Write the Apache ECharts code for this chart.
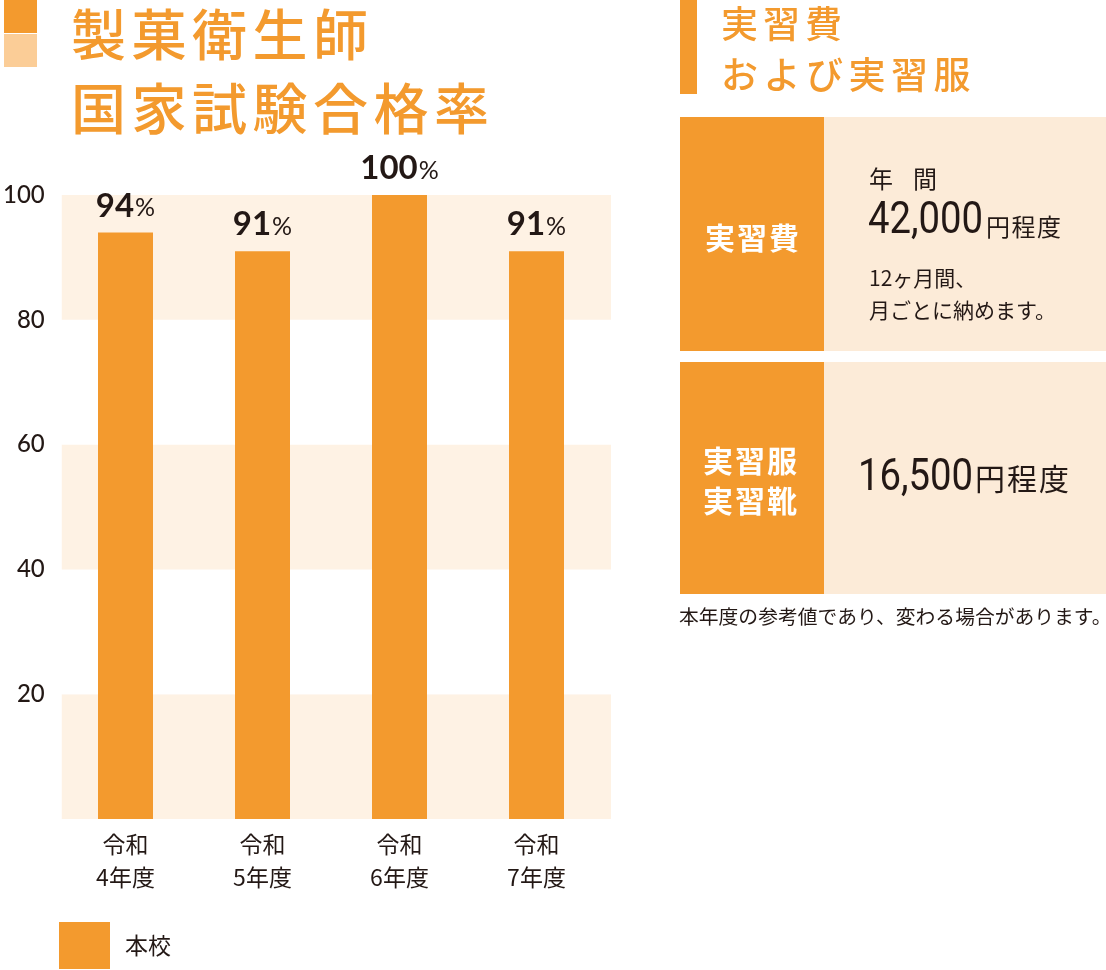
<!DOCTYPE html>
<html>
<head>
<meta charset="utf-8">
<script src="https://cdn.jsdelivr.net/npm/echarts@6/dist/echarts.min.js"></script>
<style>
  html, body { margin: 0; padding: 0; background: #fff; }
  #chart { width: 1106px; height: 970px; }
</style>
</head>
<body>
<div id="chart"></div>
<script>
// データ
const categories = ['令和\n4年度', '令和\n5年度', '令和\n6年度', '令和\n7年度'];
const passRates = [94, 91, 100, 91];
const seriesName = '本校';
const yMin = 0, yMax = 100, yStep = 20;

const ORANGE = '#F39A2E';
const LIGHT = '#FBCD97';
const BAND = '#FEF2E4';
const CELL = '#FCEBD8';
const INK = '#231815';
const JP = '"Noto Sans CJK JP", sans-serif';

// 1文字ずつ並べる（字間調整用）
function chars(text, x, y, pitch, size, color, weight) {
  return text.split('').map((c, i) => ({
    type: 'text',
    x: x + i * pitch,
    y: y,
    silent: true,
    style: {
      text: c, fill: color, fontSize: size, fontFamily: JP,
      fontWeight: weight || 'normal', align: 'left', verticalAlign: 'middle'
    }
  }));
}

function txt(text, x, y, size, color) {
  return {
    type: 'text', x: x, y: y, silent: true,
    style: { text: text, fill: color, fontSize: size, fontFamily: JP, align: 'left', verticalAlign: 'middle' }
  };
}

function digits(text, x, y) {
  return {
    type: 'text', x: x, y: y, scaleX: 0.87, silent: true,
    style: { text: text, fill: INK, fontSize: 44, fontFamily: 'Roboto', fontWeight: 'normal', align: 'left', verticalAlign: 'middle' }
  };
}

const graphics = [
  // 左タイトル
  { type: 'rect', shape: { x: 4, y: 0, width: 33, height: 33 }, style: { fill: ORANGE }, silent: true },
  { type: 'rect', shape: { x: 4, y: 34, width: 33, height: 33 }, style: { fill: LIGHT }, silent: true },
  ...chars('製菓衛生師', 71, 34, 60.5, 55, ORANGE, 500),
  ...chars('国家試験合格率', 71, 108, 60.5, 55, ORANGE, 500),

  // 右タイトル
  { type: 'rect', shape: { x: 680, y: 0, width: 17, height: 94 }, style: { fill: ORANGE }, silent: true },
  ...chars('実習費', 721, 24, 42, 37, ORANGE, 500),
  ...chars('および実習服', 721, 75, 42.5, 37, ORANGE, 500),

  // 表 1
  { type: 'rect', shape: { x: 680, y: 117, width: 144, height: 234 }, style: { fill: ORANGE }, silent: true },
  { type: 'rect', shape: { x: 824, y: 117, width: 282, height: 234 }, style: { fill: CELL }, silent: true },
  ...chars('実習費', 705, 238, 32, 30, '#fff', 'bold'),
  ...chars('年 間', 869, 179, 22, 24, INK),
  digits('42,000', 868, 222),
  ...chars('円程度', 986, 227, 25.5, 24, INK),
  txt('12ヶ月間、', 869, 278, 21, INK),
  txt('月ごとに納めます。', 869, 310, 21, INK),

  // 表 2
  { type: 'rect', shape: { x: 680, y: 362, width: 144, height: 232 }, style: { fill: ORANGE }, silent: true },
  { type: 'rect', shape: { x: 824, y: 362, width: 282, height: 232 }, style: { fill: CELL }, silent: true },
  ...chars('実習服', 703, 461, 32, 30, '#fff', 'bold'),
  ...chars('実習靴', 703, 501, 32, 30, '#fff', 'bold'),
  digits('16,500', 858, 479),
  ...chars('円程度', 975, 479, 32, 30, INK),

  txt('本年度の参考値であり、変わる場合があります。', 679, 616, 19.8, INK)
];

const chart = echarts.init(document.getElementById('chart'));
chart.setOption({
  animation: false,
  backgroundColor: '#fff',
  textStyle: { fontFamily: JP },
  // grid 0: 背景の帯と目盛、grid 1: 棒
  grid: [
    { left: 59, right: 495, top: 195, bottom: 151, containLabel: false },
    { left: 57, right: 501, top: 195, bottom: 151, containLabel: false }
  ],
  legend: {
    data: [seriesName],
    left: 59, top: 922, padding: 0,
    itemWidth: 51, itemHeight: 47, icon: 'rect',
    textStyle: { fontSize: 23, color: INK, fontFamily: JP, padding: [0, 0, 0, 10] }
  },
  xAxis: [
    { type: 'category', gridIndex: 0, data: categories, show: false },
    {
      type: 'category',
      gridIndex: 1,
      data: categories,
      axisLine: { show: false },
      axisTick: { show: false },
      axisLabel: { fontSize: 23, lineHeight: 33, color: INK, margin: 9, fontFamily: JP }
    }
  ],
  yAxis: [
    {
      type: 'value',
      gridIndex: 0,
      min: yMin, max: yMax, interval: yStep,
      axisLine: { show: false },
      axisTick: { show: false },
      splitLine: { show: false },
      splitArea: { show: true, areaStyle: { color: [BAND, '#ffffff'] } },
      axisLabel: {
        fontSize: 24, color: INK, margin: 17, fontFamily: 'Lato', fontWeight: 500,
        padding: [0, 0, 6, 0],
        formatter: v => (v === 0 ? '' : String(v))
      }
    },
    {
      type: 'value',
      gridIndex: 1,
      min: yMin, max: yMax, interval: yStep,
      show: false
    }
  ],
  series: [{
    name: seriesName,
    type: 'bar',
    xAxisIndex: 1,
    yAxisIndex: 1,
    data: passRates,
    barWidth: 55,
    itemStyle: { color: ORANGE },
    label: {
      show: true,
      position: 'top',
      distance: 10,
      formatter: p => '{n|' + p.value + '}{p|%}',
      rich: {
        n: { fontSize: 33, fontWeight: 'bold', color: INK, fontFamily: 'Lato' },
        p: { fontSize: 25, color: INK, fontFamily: 'Lato', padding: [4, 0, 0, 1] }
      }
    }
  }],
  graphic: graphics
});
</script>
</body>
</html>
